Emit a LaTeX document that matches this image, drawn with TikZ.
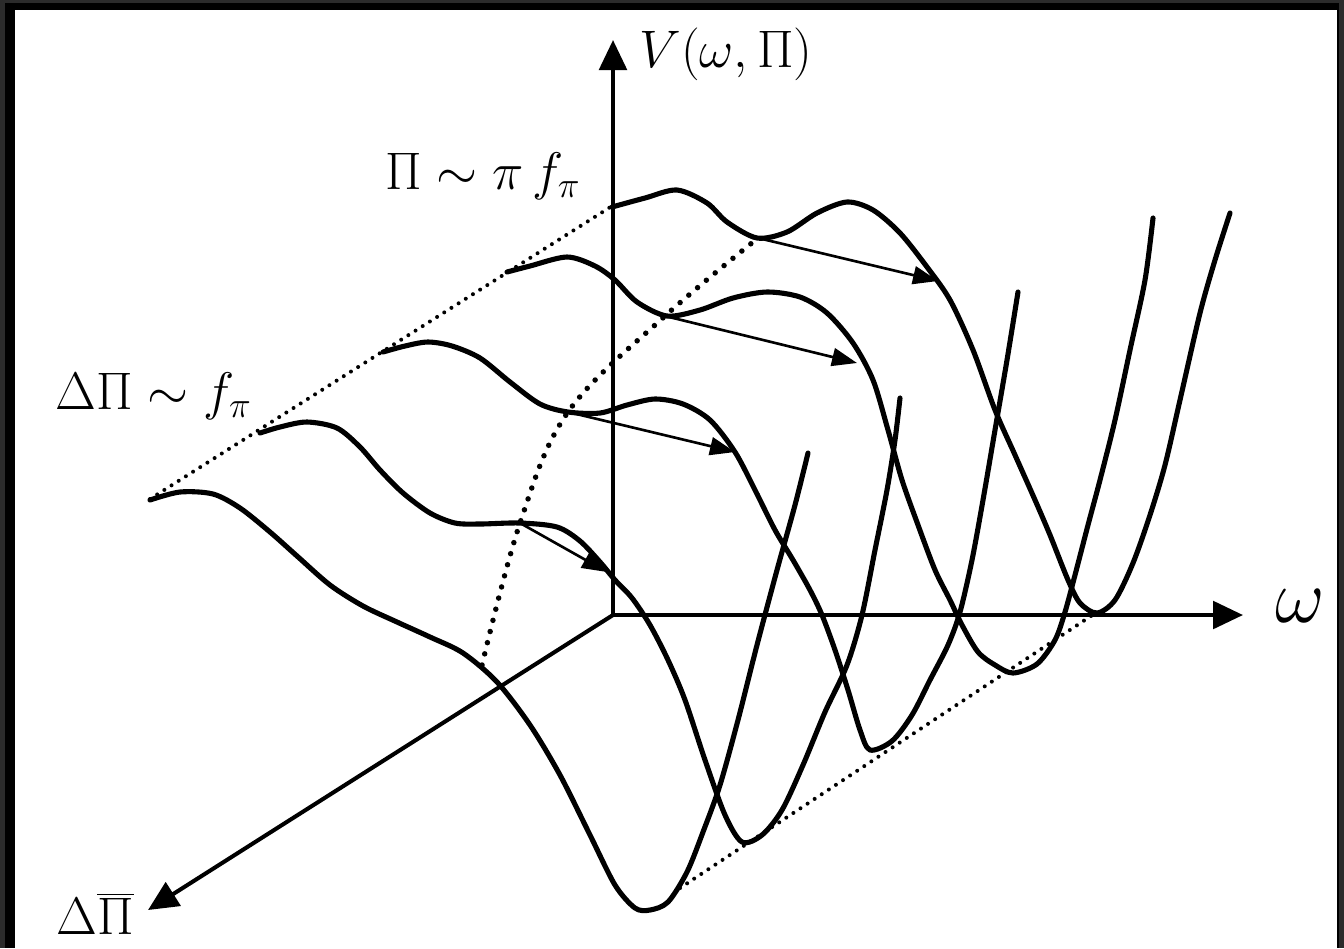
\documentclass[tikz,border=0pt]{standalone}
\usetikzlibrary{arrows.meta}
\begin{document}
\begin{tikzpicture}[x=0.02cm,y=-0.02cm,
  curve/.style={line width=2.9pt, line join=round, line cap=round},
  axis/.style={line width=2.3pt, -{Triangle[length=0.6cm,width=0.55cm]}},
  flow/.style={line width=1.5pt, -{Triangle[length=0.5cm,width=0.36cm]}},
  dots/.style={line width=0.08cm, dash pattern=on 0pt off 0.17cm, line cap=round},
  bigdots/.style={line width=0.11cm, dash pattern=on 0pt off 0.23cm, line cap=round},
  lab/.style={font=\fontsize{20.74}{24}\selectfont, inner sep=0pt, scale=1.45}]
\fill[black!83] (0,0) rectangle (1344,948);
\fill[black] (5,3) rectangle (1339,948);
\fill[white] (15,10) rectangle (1337,948);
\useasboundingbox (0,0) rectangle (1344,948);

% axes
\coordinate (O) at (613,615);
\coordinate (Vt) at (613,40);
\coordinate (Wt) at (1243,615);
\coordinate (Dt) at (148,910);
\draw[axis] (O) -- (Vt);
\draw[axis] (O) -- (Wt);
\draw[axis] (O) -- (Dt);

% labels
\node[lab] (Vlab) at (726,54) {$V(\omega,\Pi)$};
\node[lab] (Plab) at (483,176) {$\Pi\sim\pi\,f_\pi$};
\node[lab] (dPlab) at (154,396) {$\Delta\Pi\sim f_\pi$};
\node[lab, scale=2.1/1.45] (wlab) at (1300,606) {$\omega$};
\node[lab] (dPbar) at (95,914) {$\Delta\overline{\Pi}$};

% dotted guide lines
\coordinate (s1) at (150,499);
\coordinate (s5) at (612,206);
\coordinate (m1) at (680,888);
\coordinate (m5) at (1094,614);
\draw[dots] (s1) -- (s5);
\draw[dots] (m1) -- (m5);

% arc of false vacua
\coordinate (a1) at (482,665);
\coordinate (a2) at (520,523);
\coordinate (a3) at (568,412);
\coordinate (a4) at (665,316);
\coordinate (a5) at (758,238);
\draw[bigdots] plot[smooth, tension=0.6] coordinates {(a1) (a2) (a3) (a4) (a5)};

% curves
\draw[curve] plot[smooth, tension=0.5] coordinates {
(150,500) (180,492) (213,494) (240,508) (270,532) (297,556) (330,585) (363,606)
(397,622) (430,637) (463,653) (497,682) (530,725) (560,775) (590,835) (615,885)
(635,908) (650,910) (668,902) (687,872) (703,832) (720,785) (738,720) (757,645)
(777,570) (795,505) (808,453)};
\draw[curve] plot[smooth, tension=0.5] coordinates {
(260,433) (280,427) (307,422) (337,428) (360,447) (380,470) (403,493) (430,513)
(455,523) (480,524) (520,523) (557,527) (580,541) (600,562) (615,580) (632,598)
(650,625) (668,660) (685,700) (705,760) (725,815) (742,842) (762,835) (782,810)
(803,765) (825,712) (847,665) (862,615) (875,550) (887,490) (895,440) (900,398)};
\draw[curve] plot[smooth, tension=0.5] coordinates {
(383,352) (405,346) (428,342) (452,346) (480,358) (510,382) (540,404) (568,412)
(600,413) (627,405) (655,399) (683,404) (710,420) (735,452) (755,490) (775,530)
(793,560) (810,590) (822,615) (835,650) (848,690) (860,730) (870,750) (892,741)
(912,715) (930,680) (948,645) (960,612) (972,560) (983,500) (995,430) (1007,360)
(1018,292)};
\draw[curve] plot[smooth, tension=0.5] coordinates {
(507,272) (530,266) (567,257) (595,266) (615,280) (637,302) (667,316) (700,310)
(733,298) (767,292) (800,297) (827,313) (853,343) (873,380) (888,430) (902,480)
(918,525) (935,570) (950,600) (962,625) (978,652) (995,665) (1013,673) (1037,664)
(1055,640) (1065,612) (1075,575) (1088,525) (1100,480) (1115,420) (1130,350)
(1145,280) (1153,218)};
\draw[curve] plot[smooth, tension=0.5] coordinates {
(612,207) (645,198) (677,190) (707,203) (727,222) (757,238) (787,232) (817,213)
(847,202) (873,210) (900,233) (927,267) (950,300) (973,350) (995,410) (1015,455)
(1035,500) (1050,535) (1068,580) (1080,603) (1097,613) (1115,600) (1133,563)
(1150,515) (1165,465) (1180,400) (1200,313) (1215,260) (1230,213)};

% tunnelling arrows
\coordinate (t2) at (607,572);
\coordinate (t3) at (735,452);
\coordinate (t4) at (857,363);
\coordinate (t5) at (938,281);
\draw[flow] (a2) -- (t2);
\draw[flow] (a3) -- (t3);
\draw[flow] (a4) -- (t4);
\draw[flow] (a5) -- (t5);
\end{tikzpicture}
\end{document}
